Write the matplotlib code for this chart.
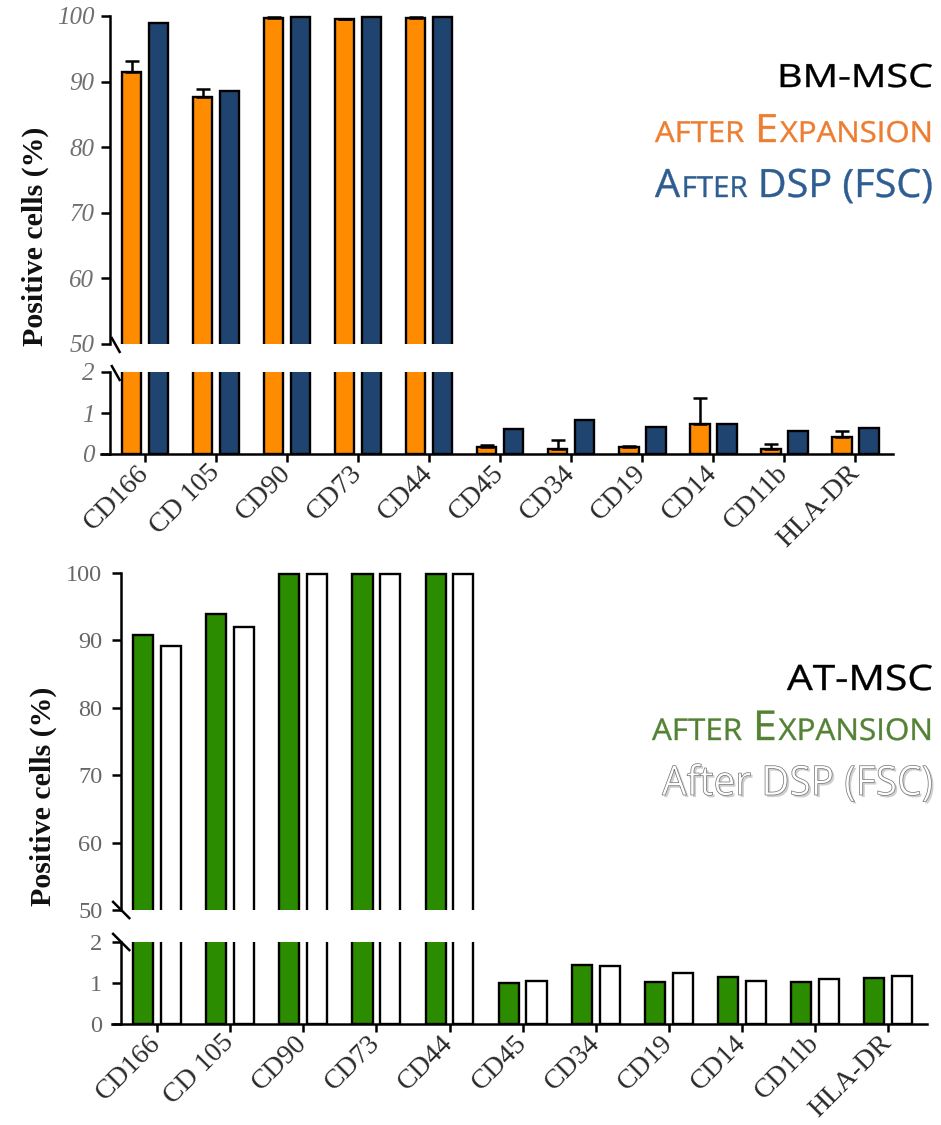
import numpy as np
import matplotlib
matplotlib.use("Agg")
import matplotlib.pyplot as plt
import matplotlib.patheffects as pe
from matplotlib.lines import Line2D
from matplotlib.patches import PathPatch
from matplotlib.path import Path
from matplotlib.textpath import TextPath, TextToPath
from matplotlib.font_manager import FontProperties
from matplotlib.transforms import Affine2D, IdentityTransform

# ---------------- data ----------------
markers = ["CD166", "CD 105", "CD90", "CD73", "CD44", "CD45",
           "CD34", "CD19", "CD14", "CD11b", "HLA-DR"]

bm_expansion = [91.5, 87.6, 99.7, 99.5, 99.7, 0.16, 0.12, 0.16, 0.73, 0.12, 0.41]
bm_expansion_err = [1.7, 1.3, 0.2, 0.1, 0.15, 0.07, 0.21, 0.04, 0.63, 0.12, 0.16]
bm_dsp = [99.0, 88.5, 99.9, 99.9, 99.9, 0.60, 0.82, 0.65, 0.72, 0.57, 0.63]

at_expansion = [90.8, 93.9, 99.9, 99.9, 99.9, 0.99, 1.45, 1.03, 1.15, 1.03, 1.13]
at_dsp = [89.2, 92.0, 99.8, 99.8, 99.8, 1.06, 1.42, 1.24, 1.06, 1.09, 1.18]

upper_ticks = [50, 60, 70, 80, 90, 100]
lower_ticks = [0, 1, 2]

# ---------------- style ----------------
W, H, DPI = 941, 1125, 100
plt.rcParams["font.family"] = ["Liberation Serif", "DejaVu Serif"]

ORANGE = "#FF8C00"
NAVY = "#1F4470"
GREEN = "#2B8C00"

fig = plt.figure(figsize=(W / DPI, H / DPI), dpi=DPI)


def axes_px(left, right, top, bottom):
    return fig.add_axes([left / W, 1 - bottom / H, (right - left) / W, (bottom - top) / H])


X_LIM = (-0.62, 10.53)
SPINE_X = -0.49
OFF = 0.19
BAR_W = 0.275


def slash(ax, yval, d0, d1):
    x0, y0 = ax.transData.transform((SPINE_X, yval))
    fig.add_artist(Line2D([x0 + d0[0], x0 + d1[0]], [y0 + d0[1], y0 + d1[1]],
                          transform=IdentityTransform(), color="black",
                          lw=1.8, solid_capstyle="butt"))


def chart(px, vals_a, vals_b, style_a, style_b, err_a, tick_style, slash_d, ylab_xy):
    left, right, hi_top, hi_bot, lo_top, lo_bot = px
    ax_hi = axes_px(left, right, hi_top, hi_bot)
    ax_lo = axes_px(left, right, lo_top, lo_bot)
    x = np.arange(len(markers))
    va = np.asarray(vals_a)
    vb = np.asarray(vals_b)
    for ax in (ax_hi, ax_lo):
        ax.bar(x - OFF, va, BAR_W, edgecolor="black", linewidth=1.7, **style_a)
        ax.bar(x + OFF, vb, BAR_W, edgecolor="black", linewidth=1.7, **style_b)
        if err_a is not None:
            ax.errorbar(x - OFF, va, yerr=[np.zeros_like(va), np.asarray(err_a)],
                        fmt="none", ecolor="black", elinewidth=1.8,
                        capsize=4.7, capthick=1.8)
        ax.set_xlim(*X_LIM)
        ax.spines["left"].set_position(("data", SPINE_X))
        ax.spines[["top", "right"]].set_visible(False)
        for s in ax.spines.values():
            s.set_linewidth(1.8)
        ax.tick_params(axis="y", length=6.5, width=1.8, pad=tick_style["pad"],
                       labelsize=tick_style["size"], labelcolor=tick_style["color"])
    ax_hi.set_ylim(50, 100.5)
    ax_hi.set_yticks(upper_ticks)
    ax_hi.spines["left"].set_bounds(50, 100)
    ax_hi.spines["bottom"].set_visible(False)
    ax_hi.set_xticks([])

    ax_lo.set_ylim(0, 2)
    ax_lo.set_yticks(lower_ticks)
    ax_lo.set_xticks(x)
    ax_lo.set_xticklabels(markers)
    ax_lo.tick_params(axis="x", length=6, width=1.8, pad=5, labelsize=20,
                      labelcolor="#2a2a2a")
    for ax in (ax_hi, ax_lo):
        for lab in ax.get_yticklabels():
            lab.set_fontstyle(tick_style["style"])
    plt.setp(ax_lo.get_xticklabels(), rotation=45, ha="right", va="center",
             rotation_mode="anchor")

    slash(ax_hi, 50, *slash_d)
    slash(ax_lo, 2, *slash_d)

    fig.text(ylab_xy[0] / W, 1 - ylab_xy[1] / H, "Positive cells (%)",
             rotation=90, ha="center", va="center", fontsize=21.5,
             fontweight="bold", color="#111111")


# ---------------- small-caps legend text ----------------
_t2p = TextToPath()


def caps_text(pieces, right, baseline, width, **patch_kw):
    paths = []
    x = 0.0
    for s, size in pieces:
        if s == " ":
            x += 0.26 * size
            continue
        fp = FontProperties(family="Open Sans", size=size)
        paths.append(TextPath((x, 0), s, prop=fp))
        w, _, _ = _t2p.get_text_width_height_descent(s, fp, ismath=False)
        x += w + 0.04 * size
    natural = x - 0.04 * pieces[-1][1]
    sx = width / natural
    tr = Affine2D().scale(sx, 1).translate(right - width, H - baseline)
    patch = PathPatch(Path.make_compound_path(*paths), transform=tr, **patch_kw)
    fig.add_artist(patch)
    return patch


# ---------------- BM-MSC ----------------
chart((101, 893, 12.7, 344, 372, 454),
      bm_expansion, bm_dsp,
      dict(color=ORANGE), dict(color=NAVY), bm_expansion_err,
      dict(pad=5, size=18, color="#707070", style="italic"),
      ((1, 7), (10, -9)), (35, 236))

caps_text([("BM-MSC", 32)], 933, 87, 156, facecolor="black", edgecolor="black", lw=0.3)
caps_text([("AFTER", 29), (" ", 34), ("E", 39), ("XPANSION", 29)],
          933, 142, 278, facecolor="#ED7D31", edgecolor="#ED7D31", lw=0.3)
caps_text([("A", 39), ("FTER", 29), (" ", 34), ("DSP (FSC)", 39)],
          933, 197, 278, facecolor="#2E5D91", edgecolor="#2E5D91", lw=0.3)

# ---------------- AT-MSC ----------------
chart((111.7, 927, 569.6, 910, 942, 1024),
      at_expansion, at_dsp,
      dict(color=GREEN), dict(color="white"), None,
      dict(pad=7, size=17.5, color="#666666", style="normal"),
      ((-9, 9), (9, -9)), (43, 796))

caps_text([("AT-MSC", 35)], 933, 690, 146, facecolor="black", edgecolor="black", lw=0.3)
caps_text([("AFTER", 30), (" ", 35), ("E", 41), ("XPANSION", 30)],
          933, 740, 281, facecolor="#548235", edgecolor="#548235", lw=0.3)
caps_text([("After DSP (FSC)", 41)], 933, 795, 271,
          facecolor="white", edgecolor="#6f6f6f", lw=0.5,
          path_effects=[pe.SimplePatchShadow(offset=(1.5, -1.5), shadow_rgbFace="#b0b0b0",
                                             alpha=0.6), pe.Normal()])

fig.savefig("out.png", dpi=DPI)
